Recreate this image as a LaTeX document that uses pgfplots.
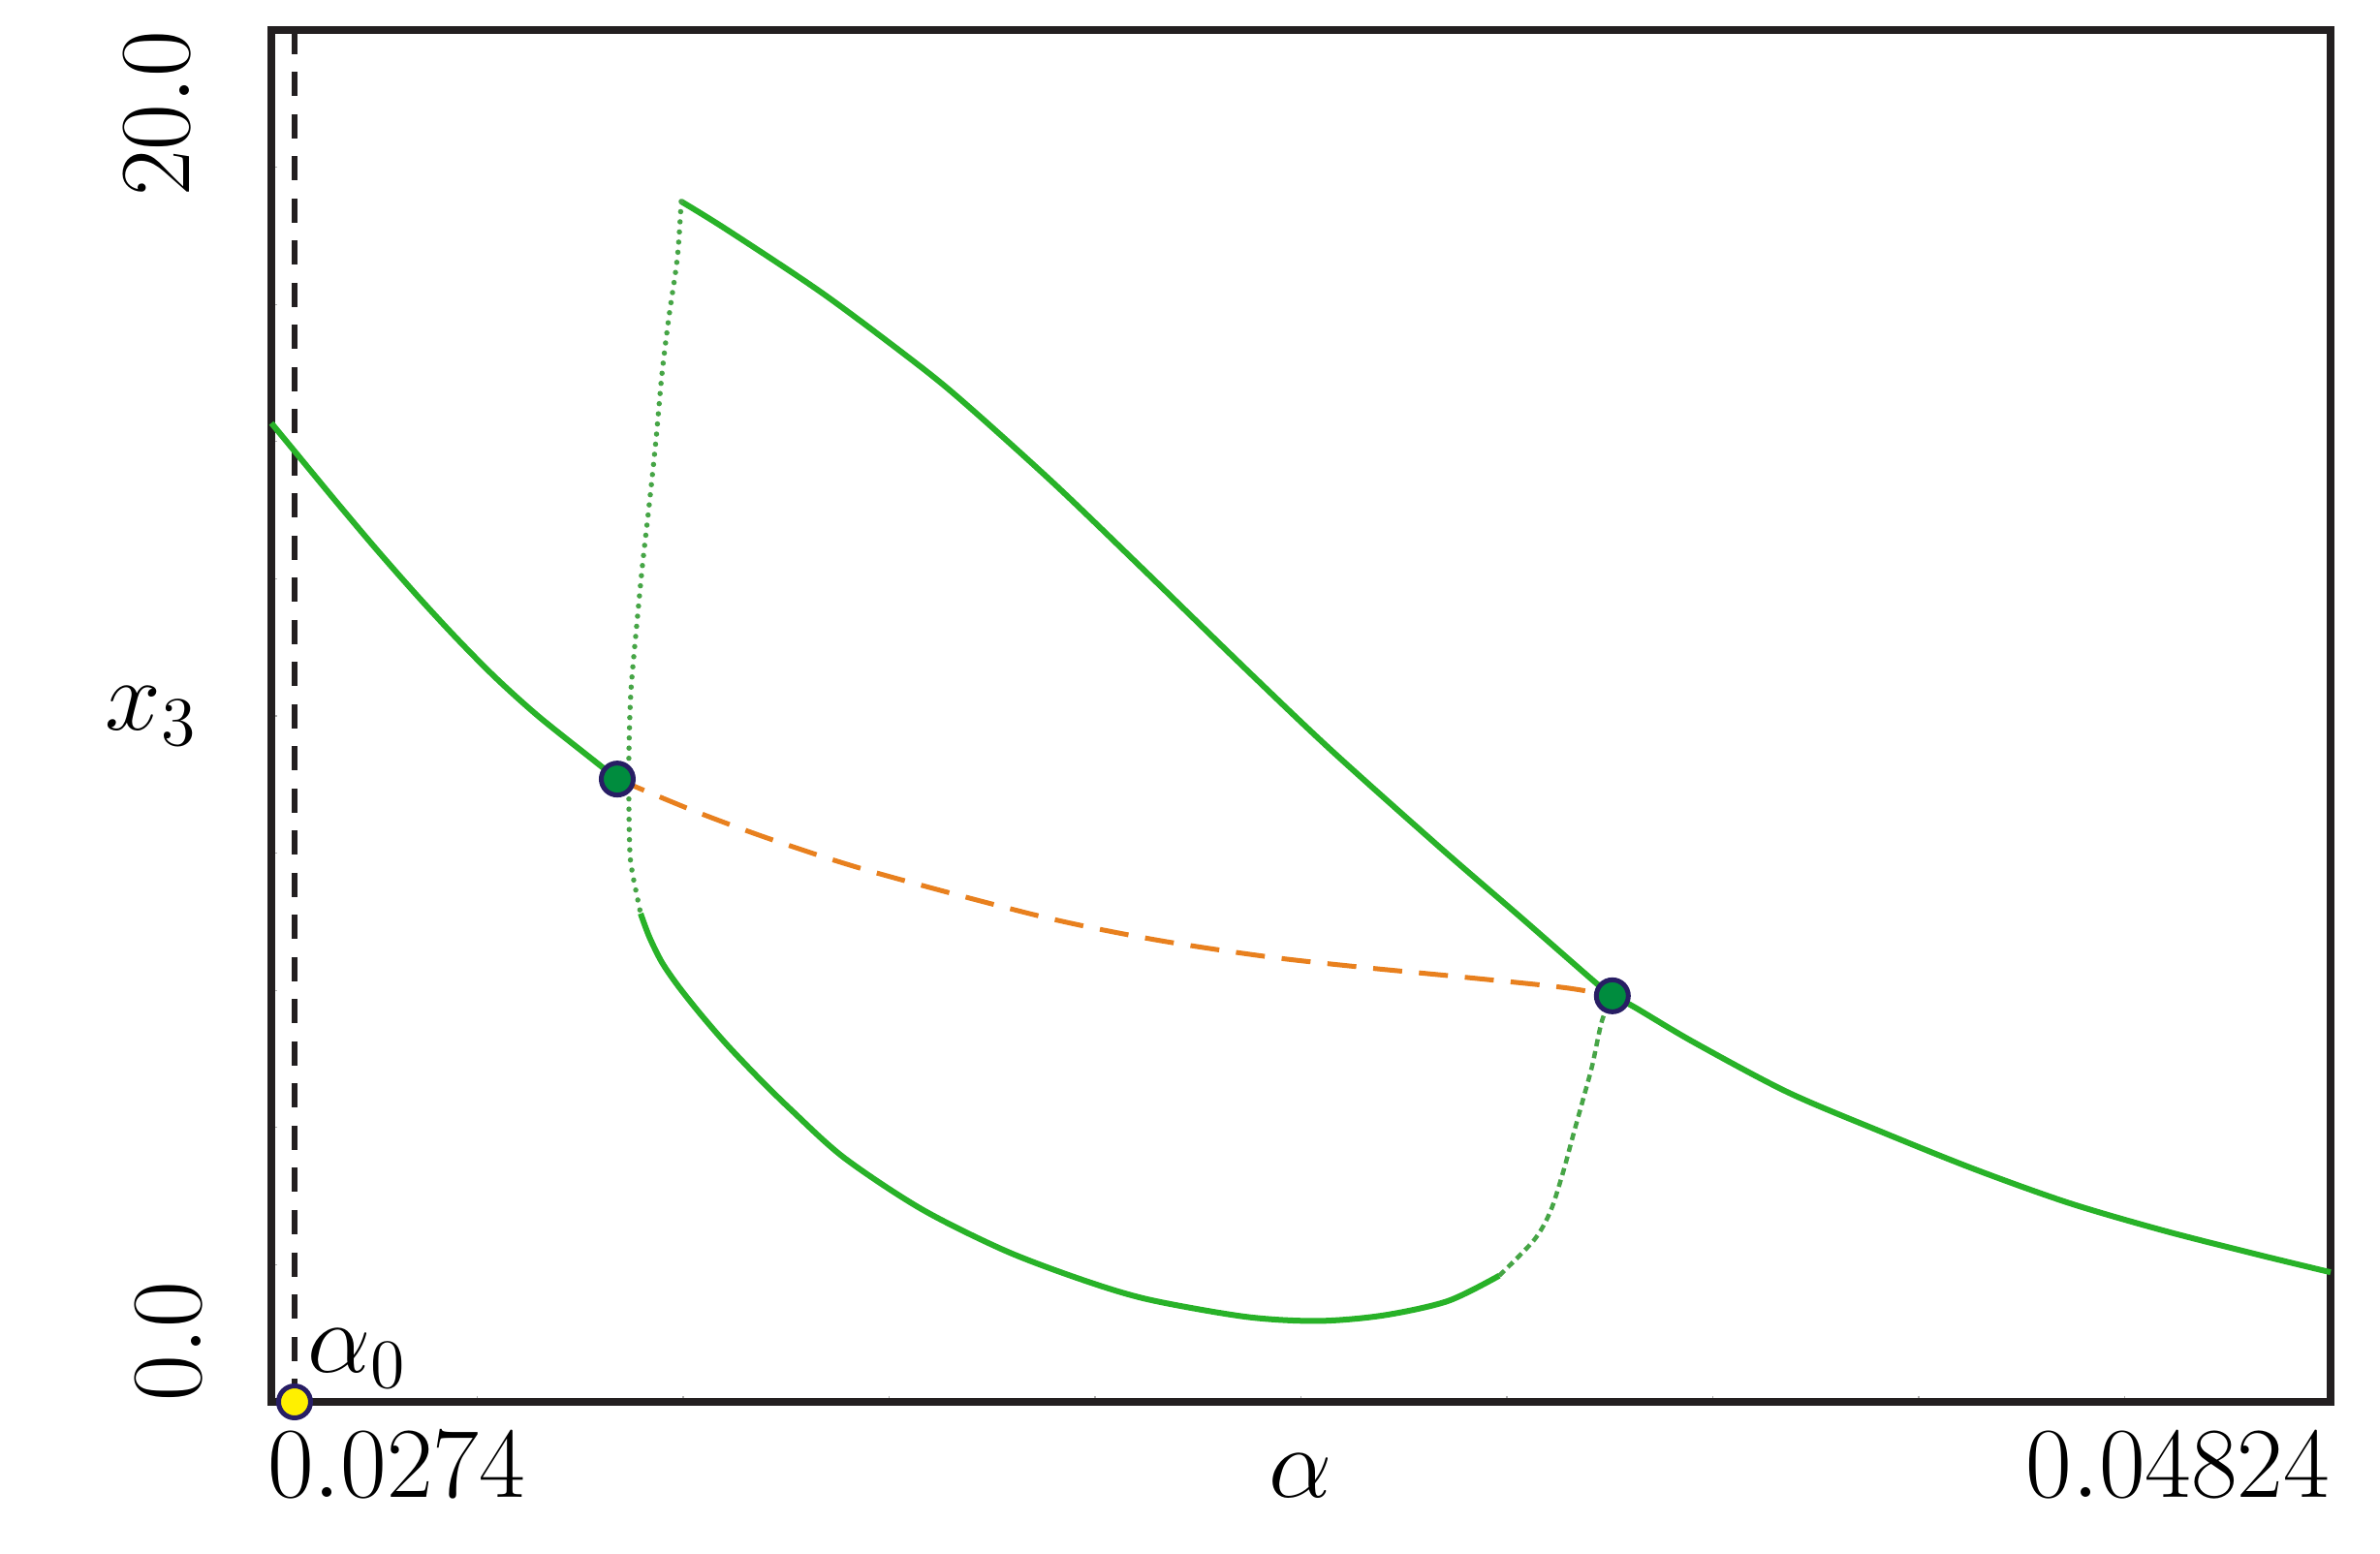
\documentclass[border=0pt]{standalone}
\usepackage{pgfplots}
\pgfplotsset{compat=1.18}
\definecolor{gline}{RGB}{40,178,40}
\definecolor{gdot}{RGB}{70,165,70}
\definecolor{orng}{RGB}{232,128,30}
\definecolor{hopf}{RGB}{0,140,62}
\definecolor{navy}{RGB}{40,30,100}
\definecolor{yel}{RGB}{255,240,0}
\definecolor{axk}{RGB}{35,31,32}
\begin{document}
\begin{tikzpicture}
\useasboundingbox (-56pt,-31.2pt) rectangle (435.2pt,289.4pt);
\begin{axis}[
  at={(0,0)}, anchor=south west,
  scale only axis, width=425pt, height=283.2pt,
  xmin=0.0274, xmax=0.04824, ymin=0, ymax=20,
  clip=false,
  scaled x ticks=false, scaled y ticks=false,
  axis line style={line width=1.6pt, color=axk},
  font=\fontsize{20}{24}\selectfont,
  tick pos=left, tick align=inside,
  major tick length=0pt,
  minor tick length=1.2pt,
  minor tick style={black!30, line width=0.25pt},
  minor xtick={0.029484,0.031568,0.033652,0.035736,0.03782,0.039904,0.041988,0.044072,0.046156},
  minor ytick={2,4,6,8,10,12,14,16,18},
  xtick={0.0274}, xticklabels={$0.0274$},
  xticklabel style={anchor=north west, inner sep=0pt, xshift=-1pt, yshift=-6.2pt},
  extra x ticks={0.04824}, extra x tick labels={$0.04824$},
  extra x tick style={major tick length=0pt, xticklabel style={anchor=north east, xshift=1pt}},
  ytick={0}, yticklabels={$0.0$},
  yticklabel style={xshift=-14.4pt, rotate=90, anchor=south west, inner sep=0pt},
  extra y ticks={20}, extra y tick labels={$20.0$},
  extra y tick style={major tick length=0pt, yticklabel style={anchor=south east, yshift=2.2pt}},
  xlabel={$\alpha$}, ylabel={$x_3$},
  every axis x label/.style={at={(axis description cs:0.5,0)}, anchor=north, inner sep=0pt, yshift=-10.6pt},
  every axis y label/.style={at={(axis description cs:0,0.5)}, anchor=east, inner sep=0pt, xshift=-15pt},
]
% vertical dashed line at alpha_0
\addplot[axk, line width=1.2pt, dash pattern=on 5pt off 3.7pt] coordinates {(0.027635,20) (0.027635,0)};
% stable equilibrium, left
\addplot[gline, line width=1.2pt, smooth, tension=0.5] table {
0.02740 14.27
0.027635 13.86
0.028047 13.14
0.028469 12.42
0.028891 11.73
0.029283 11.12
0.029675 10.55
0.030107 9.99
0.030656 9.36
0.030901 9.08
};
% stable equilibrium, right
\addplot[gline, line width=1.2pt, smooth, tension=0.5] table {
0.040971 5.92
0.041189 5.76
0.041787 5.25
0.042738 4.52
0.043690 3.94
0.044641 3.39
0.045592 2.90
0.046543 2.50
0.047495 2.15
0.04824 1.89
};
% unstable equilibrium
\addplot[orng, line width=1pt, dash pattern=on 6pt off 3.5pt, smooth, tension=0.5] table {
0.030901 9.08
0.031705 8.60
0.032500 8.18
0.033480 7.73
0.035182 7.08
0.036334 6.74
0.037482 6.49
0.038482 6.33
0.039482 6.19
0.040483 6.04
0.040971 5.92
};
% periodic orbit max
\addplot[gline, line width=1.2pt, smooth, tension=0.5] table {
0.031548 17.50
0.032009 17.09
0.032990 16.15
0.033981 15.08
0.034481 14.48
0.035334 13.37
0.036236 12.12
0.037286 10.65
0.038134 9.49
0.039237 8.07
0.040032 7.08
0.040787 6.13
0.040971 5.92
};
% transient part (dotted)
\addplot[gdot, line width=1.1pt, line cap=round, dash pattern=on 0pt off 2.1pt, smooth, tension=0.5] table {
0.031548 17.50
0.031509 16.68
0.031421 15.79
0.031352 14.97
0.031293 14.03
0.031225 13.09
0.031156 12.20
0.031097 11.31
0.031040 10.38
0.031019 9.49
0.031019 8.62
0.031030 7.97
0.031058 7.68
0.031097 7.40
0.031137 7.12
};
% periodic orbit min
\addplot[gline, line width=1.2pt, smooth, tension=0.5] table {
0.031137 7.12
0.031225 6.78
0.031352 6.41
0.031519 6.06
0.031745 5.65
0.032009 5.21
0.032333 4.72
0.032666 4.25
0.033196 3.56
0.033981 2.81
0.034834 2.20
0.035628 1.77
0.036285 1.49
0.037266 1.24
0.037992 1.18
0.038649 1.26
0.039306 1.47
0.039826 1.84
};
\addplot[gdot, line width=0.9pt, dash pattern=on 1.5pt off 1pt, smooth, tension=0.5] table {
0.039826 1.84
0.040179 2.36
0.040345 2.78
0.040473 3.35
0.040571 3.87
0.040669 4.38
0.040767 4.90
0.040865 5.55
0.040971 5.92
};
% Hopf points
\addplot[only marks, mark=*, mark size=3.3pt, mark options={fill=hopf, draw=navy, line width=1pt}] coordinates {(0.030901,9.08) (0.040971,5.92)};
% alpha_0 point
\addplot[only marks, mark=*, mark size=3.3pt, mark options={fill=yel, draw=navy, line width=1pt}] coordinates {(0.027635,0)};
\node[anchor=south west, inner sep=0pt, xshift=2.6pt, yshift=2.8pt] at (axis cs:0.027635,0) {$\alpha_0$};
\end{axis}
\end{tikzpicture}
\end{document}
